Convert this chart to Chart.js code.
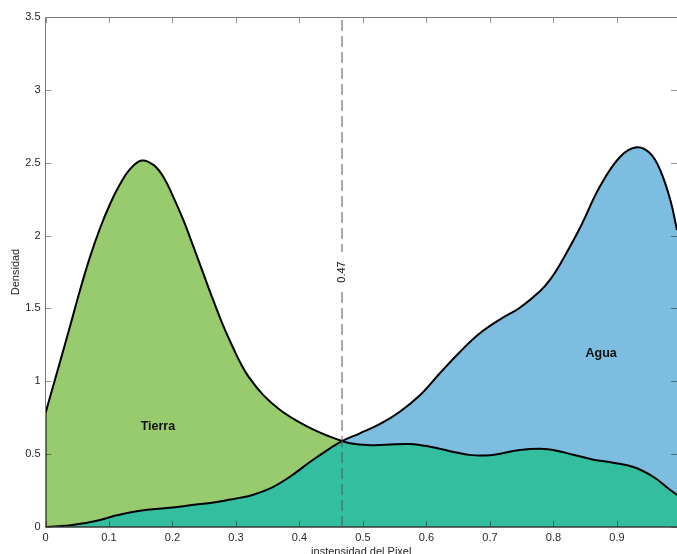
<!DOCTYPE html>
<html>
<head>
<meta charset="utf-8">
<script src="https://cdn.jsdelivr.net/npm/chart.js@4/dist/chart.umd.min.js"></script>
<style>
  html, body { margin: 0; padding: 0; background: #ffffff; }
  canvas { display: block; }
</style>
</head>
<body>
<canvas id="chart" width="677" height="554"></canvas>
<script>
// Kernel density of pixel intensity, land (Tierra) vs water (Agua)
const xTierra = [0, 0.007, 0.023, 0.039, 0.054, 0.070, 0.086, 0.102, 0.117, 0.133, 0.1515, 0.170, 0.1855, 0.201, 0.217, 0.233, 0.2485, 0.264, 0.280, 0.296, 0.306, 0.320, 0.343, 0.369, 0.396, 0.422, 0.448, 0.467, 0.4795, 0.506, 0.537, 0.574, 0.6055, 0.637, 0.653, 0.668, 0.684, 0.700, 0.716, 0.747, 0.779, 0.805, 0.831, 0.863, 0.894, 0.926, 0.957, 0.9835, 0.9945];
const yTierra = [0.78, 0.89, 1.135, 1.383, 1.62, 1.852, 2.052, 2.22, 2.35, 2.456, 2.515, 2.485, 2.404, 2.267, 2.107, 1.924, 1.74, 1.558, 1.38, 1.225, 1.135, 1.03, 0.905, 0.805, 0.728, 0.668, 0.62, 0.59, 0.575, 0.562, 0.565, 0.569, 0.551, 0.52, 0.506, 0.495, 0.49, 0.493, 0.503, 0.528, 0.537, 0.524, 0.496, 0.462, 0.441, 0.412, 0.345, 0.256, 0.22];

const xAgua = [0, 0.02, 0.04, 0.06, 0.086, 0.112, 0.149, 0.191, 0.228, 0.27, 0.291, 0.306, 0.322, 0.354, 0.385, 0.417, 0.448, 0.467, 0.495, 0.527, 0.558, 0.59, 0.621, 0.653, 0.684, 0.716, 0.747, 0.779, 0.795, 0.81, 0.842, 0.873, 0.905, 0.931, 0.952, 0.968, 0.984, 0.9945];
const yAgua = [0, 0.005, 0.012, 0.025, 0.048, 0.080, 0.112, 0.130, 0.149, 0.172, 0.188, 0.200, 0.215, 0.265, 0.345, 0.448, 0.540, 0.59, 0.643, 0.707, 0.791, 0.906, 1.055, 1.203, 1.329, 1.425, 1.505, 1.62, 1.70, 1.80, 2.055, 2.336, 2.541, 2.606, 2.565, 2.45, 2.244, 2.038];

const xTicks = [0, 0.1, 0.2, 0.3, 0.4, 0.5, 0.6, 0.7, 0.8, 0.9];
const yTicks = [0, 0.5, 1, 1.5, 2, 2.5, 3, 3.5];
const xRange = [0, 0.9945];
const yRange = [0, 3.5];

const threshold = 0.467;
const classLabels = [
  { text: 'Tierra', x: 0.177, y: 0.69 },
  { text: 'Agua', x: 0.875, y: 1.19 }
];

const FONT = '"Liberation Sans", Arial, Helvetica, sans-serif';
Chart.defaults.font.family = FONT;
Chart.defaults.font.size = 11;
Chart.defaults.color = '#262626';

const toPoints = (xs, ys) => xs.map((x, i) => ({ x: x, y: ys[i] }));

// frame, inward tick marks, threshold label and class names
const decorations = {
  id: 'decorations',
  afterDatasetsDraw(chart) {
    const { ctx, chartArea: a, scales } = chart;
    const xs = scales.x, ys = scales.y;
    const tl = 6;
    ctx.save();

    // tick marks pointing into the plot on all four sides
    ctx.strokeStyle = 'rgba(0,0,0,0.42)';
    ctx.lineWidth = 1;
    ctx.beginPath();
    xTicks.forEach(v => {
      const px = Math.round(xs.getPixelForValue(v)) + 0.5;
      ctx.moveTo(px, a.bottom); ctx.lineTo(px, a.bottom - tl);
      ctx.moveTo(px, a.top); ctx.lineTo(px, a.top + tl);
    });
    yTicks.forEach(v => {
      const py = Math.round(ys.getPixelForValue(v)) + 0.5;
      ctx.moveTo(a.left, py); ctx.lineTo(a.left + tl, py);
      ctx.moveTo(a.right, py); ctx.lineTo(a.right - tl, py);
    });
    ctx.stroke();

    // frame
    ctx.strokeStyle = '#7a7a7a';
    ctx.beginPath();
    ctx.moveTo(a.left, a.bottom); ctx.lineTo(a.left, a.top + 0.5); ctx.lineTo(a.right, a.top + 0.5);
    ctx.stroke();
    ctx.strokeStyle = '#3a3a3a';
    ctx.lineWidth = 1.5;
    ctx.beginPath();
    ctx.moveTo(a.left, a.bottom); ctx.lineTo(a.right, a.bottom);
    ctx.stroke();

    // threshold value written along the dashed line
    const tx = xs.getPixelForValue(threshold);
    const ty = (a.top + a.bottom) / 2;
    ctx.fillStyle = '#ffffff';
    ctx.fillRect(tx - 6, ty - 20, 12, 40);
    ctx.translate(tx, ty);
    ctx.rotate(-Math.PI / 2);
    ctx.fillStyle = '#111111';
    ctx.font = '11px ' + FONT;
    ctx.textAlign = 'center';
    ctx.textBaseline = 'middle';
    ctx.fillText(threshold.toFixed(2), 0, 0);
    ctx.setTransform(1, 0, 0, 1, 0, 0);

    // class names
    ctx.fillStyle = '#111111';
    ctx.font = 'bold 12.5px ' + FONT;
    ctx.textAlign = 'center';
    ctx.textBaseline = 'middle';
    classLabels.forEach(l => {
      ctx.fillText(l.text, xs.getPixelForValue(l.x), ys.getPixelForValue(l.y));
    });
    ctx.restore();
  }
};

new Chart(document.getElementById('chart'), {
  type: 'line',
  data: {
    datasets: [
      {
        label: 'Tierra',
        data: toPoints(xTierra, yTierra),
        borderColor: '#000000',
        borderWidth: 2,
        pointRadius: 0,
        tension: 0.4,
        fill: { target: 1, above: '#98cb6e', below: '#7dbee0' },
        order: 1
      },
      {
        label: 'Agua',
        data: toPoints(xAgua, yAgua),
        borderColor: '#000000',
        borderWidth: 2,
        pointRadius: 0,
        tension: 0.4,
        backgroundColor: '#33be9f',
        fill: 'origin',
        order: 2
      },
      {
        label: 'Tierra borde',
        data: [{ x: xTierra[0], y: 0 }, { x: xTierra[0], y: yTierra[0] }],
        borderColor: '#000000',
        borderWidth: 2,
        pointRadius: 0,
        fill: false,
        order: 0
      },
      {
        label: 'Umbral',
        data: [{ x: threshold, y: yRange[0] }, { x: threshold, y: yRange[1] }],
        borderColor: '#555555',
        borderWidth: 1,
        borderDash: [11, 5],
        pointRadius: 0,
        fill: false,
        order: 0
      }
    ]
  },
  options: {
    responsive: false,
    animation: false,
    events: [],
    layout: { padding: { top: 17, right: 0, bottom: 0, left: 0 } },
    plugins: {
      legend: { display: false },
      tooltip: { enabled: false },
      filler: { drawTime: 'beforeDatasetsDraw' }
    },
    scales: {
      x: {
        type: 'linear',
        min: xRange[0],
        max: xRange[1],
        afterBuildTicks: s => { s.ticks = xTicks.map(v => ({ value: v })); },
        afterFit: s => { s.height = 27; },
        grid: { display: false, drawTicks: false },
        border: { display: false },
        ticks: { padding: 4, callback: v => String(v), maxRotation: 0, autoSkip: false },
        title: { display: true, text: 'instensidad del Pixel', padding: { top: 0, bottom: -4.5 } }
      },
      y: {
        min: yRange[0],
        max: yRange[1],
        afterBuildTicks: s => { s.ticks = yTicks.map(v => ({ value: v })); },
        afterFit: s => { s.width = 45.5; },
        grid: { display: false, drawTicks: false },
        border: { display: false },
        ticks: { padding: 5, callback: v => String(v), autoSkip: false },
        title: { display: true, text: 'Densidad', padding: { top: 9, bottom: 0 } }
      }
    }
  },
  plugins: [decorations]
});
</script>
</body>
</html>
